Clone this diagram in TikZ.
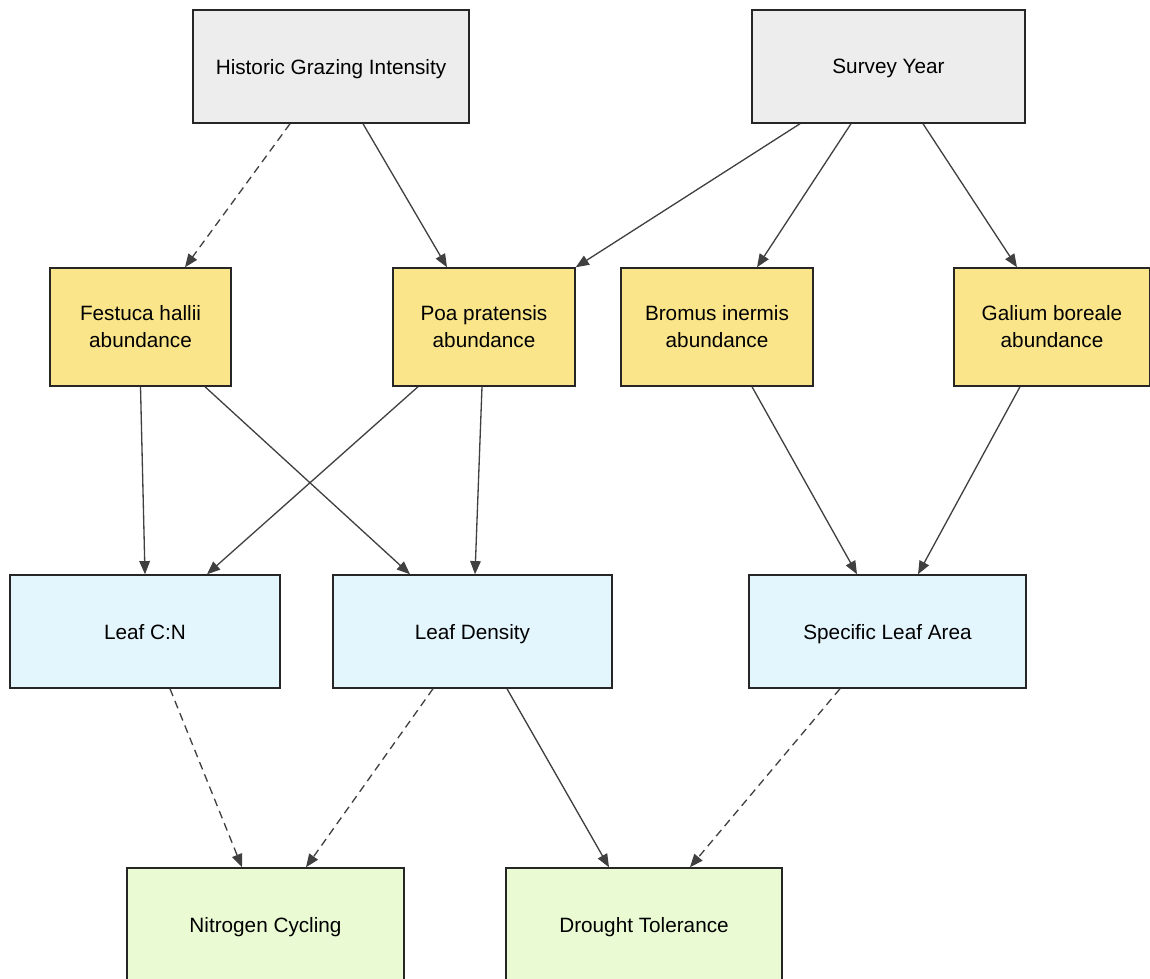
\documentclass[tikz,border=0pt]{standalone}
\usepackage{fontspec}
\setmainfont{Liberation Sans}
\usetikzlibrary{positioning}
\usetikzlibrary{arrows.meta}
\usetikzlibrary{calc}
\definecolor{boxgray}{HTML}{EDEDED}
\definecolor{boxyellow}{HTML}{FAE58A}
\definecolor{boxblue}{HTML}{E3F5FD}
\definecolor{boxgreen}{HTML}{EAFBD3}
\definecolor{edgegray}{HTML}{404040}
\tikzset{
    factor/.style = {rectangle, draw=black!85, line width=0.85pt, align=center, inner sep=0pt,
                     minimum height=2.26cm, font=\fontsize{11.8}{15.3}\selectfont},
    driver/.style = {factor, fill=boxgray},
    species/.style = {factor, fill=boxyellow, minimum height=2.36cm},
    trait/.style = {factor, fill=boxblue},
    process/.style = {factor, fill=boxgreen},
    edgen/.style = {-{Triangle[length=7.5pt,width=6pt]}, line width=0.75pt, edgegray},
    edged/.style = {edgen, dash pattern=on 4.5pt off 3pt}, % weak effect
}

\begin{document}
\begin{tikzpicture}[x=0.02cm, y=-0.02cm]
  \useasboundingbox (0,0) rectangle (1150,978);

  % drivers
  \node[driver, minimum width=5.52cm, text depth=0pt] (hgi) at (331,66.5) {Historic Grazing Intensity};
  \node[driver, minimum width=5.46cm, text depth=0pt] (sy) at (888.5,66.5) {Survey Year};

  % species
  \node[species, minimum width=3.62cm] (fes) at (140.5,327) {Festuca hallii\\abundance};
  \node[species, minimum width=3.64cm] (poa) at (484,327) {Poa pratensis\\abundance};
  \node[species, minimum width=3.84cm] (bro) at (717,327) {Bromus inermis\\abundance};
  \node[species, minimum width=3.92cm] (gal) at (1052,327) {Galium boreale\\abundance};

  % traits
  \node[trait, minimum width=5.40cm, text depth=0pt] (lcn) at (145,631.5) {Leaf C:N};
  \node[trait, minimum width=5.58cm, text depth=0pt] (lds) at (472.5,631.5) {Leaf Density};
  \node[trait, minimum width=5.54cm, text depth=0pt] (sla) at (887.5,631.5) {Specific Leaf Area};

  % processes
  \node[process, minimum width=5.54cm, text depth=0pt] (nit) at (265.5,924.5) {Nitrogen Cycling};
  \node[process, minimum width=5.52cm, text depth=0pt] (dro) at (644,924.5) {Drought Tolerance};

  \draw[edged] ($(hgi.south)+(-41,0)$) -- ($(fes.north)+(44.5,0)$);
  \draw[edgen] ($(hgi.south)+(32,0)$) -- ($(poa.north)+(-37,0)$);
  \draw[edgen] ($(sy.south)+(-88.5,0)$) -- (poa.north east);
  \draw[edgen] ($(sy.south)+(-37.5,0)$) -- ($(bro.north)+(40,0)$);
  \draw[edgen] ($(sy.south)+(34.5,0)$) -- ($(gal.north)+(-35,0)$);

  \draw[edgen] (fes.south) -- ($(lcn.north)+(0,0)$);
  \draw[edgen] ($(fes.south)+(64.5,0)$) -- ($(lds.north)+(-62.5,0)$);
  \draw[edgen] ($(poa.south)+(-66,0)$) -- ($(lcn.north)+(62,0)$);
  \draw[edgen] ($(poa.south)+(-2,0)$) -- ($(lds.north)+(2.5,0)$);
  \draw[edgen] ($(bro.south)+(35,0)$) -- ($(sla.north)+(-30.5,0)$);
  \draw[edgen] ($(gal.south)+(-32,0)$) -- ($(sla.north)+(30.5,0)$);

  \draw[edged] ($(lcn.south)+(25,0)$) -- ($(nit.north)+(-23.5,0)$);
  \draw[edged] ($(lds.south)+(-39.5,0)$) -- ($(nit.north)+(40.5,0)$);
  \draw[edgen] ($(lds.south)+(34.5,0)$) -- ($(dro.north)+(-35,0)$);
  \draw[edged] ($(sla.south)+(-47.5,0)$) -- ($(dro.north)+(46,0)$);
\end{tikzpicture}
\end{document}
